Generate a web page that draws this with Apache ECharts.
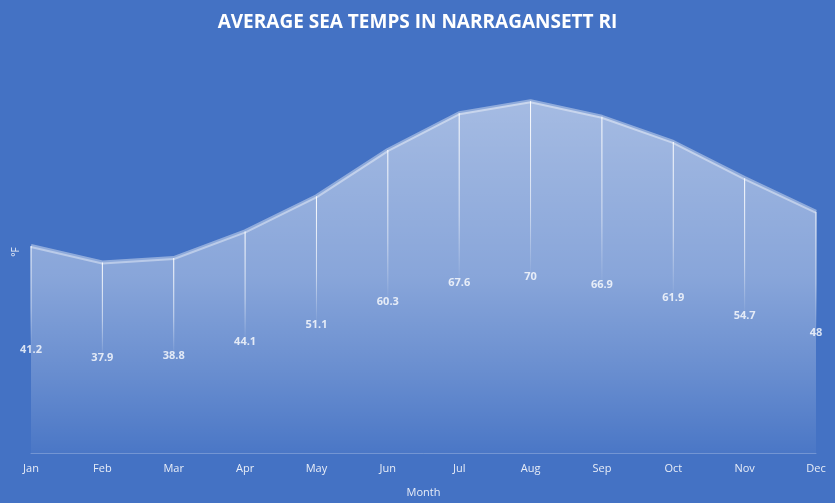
<!DOCTYPE html>
<html>
<head>
<meta charset="utf-8">
<script src="https://cdn.jsdelivr.net/npm/echarts@6/dist/echarts.min.js"></script>
<style>
  html, body { margin: 0; padding: 0; background: #4472C4; }
  #main { width: 835px; height: 503px; }
</style>
</head>
<body>
<div id="main"></div>
<script>
// 月份和海温数据
const months = ['Jan', 'Feb', 'Mar', 'Apr', 'May', 'Jun', 'Jul', 'Aug', 'Sep', 'Oct', 'Nov', 'Dec'];
const temps = [41.2, 37.9, 38.8, 44.1, 51.1, 60.3, 67.6, 70, 66.9, 61.9, 54.7, 48];

const chart = echarts.init(document.getElementById('main'));

// 标签放在面积中间，竖线从数据点往下淡出
const halfs = temps.map(v => v / 2);

chart.setOption({
  backgroundColor: '#4472C4',
  animation: false,
  title: {
    text: 'AVERAGE SEA TEMPS IN NARRAGANSETT RI',
    left: 'center',
    top: 8,
    textStyle: {
      color: '#fff',
      fontFamily: 'Open Sans',
      fontWeight: 'bold',
      fontSize: 19
    }
  },
  grid: { left: 31, right: 19, top: 51, bottom: 49 },
  xAxis: {
    type: 'category',
    data: months,
    boundaryGap: false,
    name: 'Month',
    nameLocation: 'middle',
    nameGap: 34,
    nameTextStyle: { color: '#e8edf7', fontSize: 11, fontFamily: 'Open Sans' },
    axisLine: { lineStyle: { color: 'rgba(255,255,255,0.25)' } },
    axisTick: { show: false },
    axisLabel: { color: '#e8edf7', fontSize: 11, fontFamily: 'Open Sans', margin: 10 }
  },
  yAxis: {
    type: 'value',
    min: 0,
    max: 80,
    name: '°F',
    nameLocation: 'middle',
    nameRotate: 90,
    nameGap: 10,
    nameTextStyle: { color: '#e8edf7', fontSize: 10, fontFamily: 'Open Sans' },
    axisLine: { show: false },
    axisTick: { show: false },
    axisLabel: { show: false },
    splitLine: { show: false }
  },
  series: [
    {
      type: 'line',
      data: temps,
      symbol: 'none',
      lineStyle: { color: 'rgba(255,255,255,0.4)', width: 4 },
      areaStyle: {
        color: new echarts.graphic.LinearGradient(0, 0, 0, 1, [
          { offset: 0, color: 'rgba(255,255,255,0.74)' },
          { offset: 0.5, color: 'rgba(255,255,255,0.52)' },
          { offset: 0.75, color: 'rgba(255,255,255,0.3)' },
          { offset: 1, color: 'rgba(255,255,255,0.05)' }
        ])
      },
      z: 2
    },
    {
      type: 'bar',
      stack: 'drop',
      data: halfs,
      barWidth: 1,
      itemStyle: { color: 'transparent' },
      silent: true,
      z: 3
    },
    {
      type: 'bar',
      stack: 'drop',
      data: halfs,
      barWidth: 1,
      itemStyle: {
        color: new echarts.graphic.LinearGradient(0, 0, 0, 1, [
          { offset: 0, color: 'rgba(255,255,255,1)' },
          { offset: 0.6, color: 'rgba(255,255,255,0.6)' },
          { offset: 1, color: 'rgba(255,255,255,0)' }
        ])
      },
      silent: true,
      z: 3
    },
    {
      type: 'scatter',
      data: halfs,
      symbolSize: 0,
      label: {
        show: true,
        position: 'inside',
        formatter: p => temps[p.dataIndex],
        color: '#fff',
        fontWeight: 'bold',
        fontSize: 11,
        fontFamily: 'Open Sans'
      },
      z: 4
    }
  ]
});
</script>
</body>
</html>
